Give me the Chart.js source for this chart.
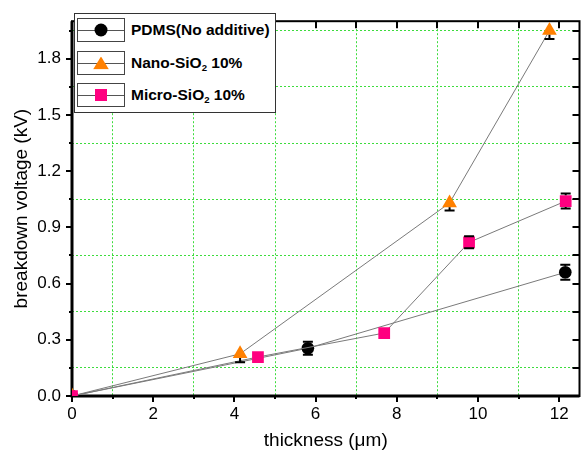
<!DOCTYPE html>
<html>
<head>
<meta charset="utf-8">
<script src="https://cdn.jsdelivr.net/npm/chart.js@4.4.1/dist/chart.umd.min.js"></script>
<style>
  body { margin: 0; background: #fff; }
  #wrap { position: relative; width: 588px; height: 456px; }
  #legend {
    position: absolute; left: 74px; top: 13px; width: 200px; height: 98px;
    border: 1px solid #333; background: #fff;
    font: bold 15.5px "Liberation Sans", Arial, sans-serif; color: #000;
  }
  .item { position: absolute; left: 2px; height: 24px; display: flex; align-items: center; white-space: nowrap; }
  .item:nth-child(1) { top: 4px; }
  .item:nth-child(2) { top: 37px; }
  .item:nth-child(3) { top: 69px; }
  .sample { position: relative; width: 46px; height: 22px; border: 1px solid #444; margin-right: 6px; }
  .sample .ln { position: absolute; left: 0; right: 0; top: 11px; height: 1px; background: #555; }
  .mk { position: absolute; left: 50%; top: 50%; transform: translate(-50%, -50%); }
  .circle { width: 13px; height: 13px; border-radius: 50%; background: #000; }
  .tri { width: 16px; height: 13px; background: #ff8000; clip-path: polygon(50% 0, 100% 100%, 0 100%); }
  .sq { width: 12px; height: 12px; background: #ff0080; }
  sub { font-size: 0.62em; vertical-align: -0.3em; line-height: 0; }
</style>
</head>
<body>
<div id="wrap">
  <canvas id="grafico" width="588" height="456"></canvas>
  <div id="legend"></div>
</div>
<script>
// dados
const seriesNames = ['PDMS(No additive)', 'Nano-SiO2 10%', 'Micro-SiO2 10%'];

const pdmsX = [0, 5.81, 12.15];
const pdmsY = [0, 0.255, 0.66];
const pdmsErr = [0, 0.035, 0.04];

const nanoX = [0, 4.14, 9.3, 11.76];
const nanoY = [0, 0.225, 1.03, 1.95];
const nanoErr = [0, 0.045, 0.04, 0.045];

const microX = [0, 4.58, 7.69, 9.78, 12.16];
const microY = [0, 0.208, 0.336, 0.82, 1.04];
const microErr = [0, 0.03, 0.03, 0.032, 0.04];

const xTicks = [0, 1, 2, 3, 4, 5, 6, 7, 8, 9, 10, 11, 12];
const xLabelled = [0, 2, 4, 6, 8, 10, 12];
const yTicks = [0, 0.15, 0.3, 0.45, 0.6, 0.75, 0.9, 1.05, 1.2, 1.35, 1.5, 1.65, 1.8, 1.95];
const yLabelled = [0, 0.3, 0.6, 0.9, 1.2, 1.5, 1.8];

const verdeGrade = '#3ddc3d';
const fonte = '"Liberation Sans", Arial, sans-serif';

function pontos(xs, ys) {
    return xs.map((x, i) => ({ x: x, y: ys[i] }));
}

// metade da altura do marcador (acima / abaixo do centro)
function metadeMarcador(ds) {
    const r = ds.pointRadius;
    if (ds.pointStyle === 'triangle') return [r, r * 0.5];
    if (ds.pointStyle === 'rect') return [r * Math.SQRT1_2, r * Math.SQRT1_2];
    return [r, r];
}

// moldura + ticks nos quatro lados
const moldura = {
    id: 'moldura',
    beforeDatasetsDraw(chart) {
        const { ctx, chartArea: a, scales } = chart;
        const sx = scales.x, sy = scales.y;
        ctx.save();
        ctx.strokeStyle = '#000';
        ctx.lineWidth = 2;
        xTicks.forEach(v => {
            const px = Math.round(sx.getPixelForValue(v));
            const major = xLabelled.includes(v);
            ctx.beginPath();
            ctx.moveTo(px, a.bottom);
            ctx.lineTo(px, a.bottom + (major ? 6 : 3));
            ctx.moveTo(px, a.top);
            ctx.lineTo(px, a.top + 7);
            ctx.stroke();
        });
        yTicks.forEach(v => {
            const py = Math.round(sy.getPixelForValue(v));
            const major = yLabelled.includes(v);
            ctx.beginPath();
            ctx.moveTo(a.left, py);
            ctx.lineTo(a.left - (major ? 6 : 3), py);
            ctx.moveTo(a.right, py);
            ctx.lineTo(a.right - 7, py);
            ctx.stroke();
        });
        ctx.lineWidth = 2;
        ctx.strokeRect(a.left, a.top, a.right - a.left, a.bottom - a.top);
        ctx.lineWidth = 3;
        ctx.beginPath();
        ctx.moveTo(a.left, a.top);
        ctx.lineTo(a.left, a.bottom);
        ctx.lineTo(a.right, a.bottom);
        ctx.stroke();
        ctx.restore();
    }
};

// barras de erro (só a parte fora do marcador)
const barrasErro = {
    id: 'barrasErro',
    afterDatasetsDraw(chart) {
        const { ctx, scales } = chart;
        const sy = scales.y;
        ctx.save();
        ctx.strokeStyle = '#000';
        ctx.lineWidth = 2;
        chart.data.datasets.forEach((ds, i) => {
            const meta = chart.getDatasetMeta(i);
            const [hCima, hBaixo] = metadeMarcador(ds);
            ds.data.forEach((p, j) => {
                const e = ds.errors[j];
                if (!e) return;
                const px = meta.data[j].x;
                const py = sy.getPixelForValue(p.y);
                const topo = sy.getPixelForValue(p.y + e);
                const base = sy.getPixelForValue(p.y - e);
                ctx.beginPath();
                if (py - topo > hCima) {
                    ctx.moveTo(px, topo);
                    ctx.lineTo(px, py - hCima);
                    ctx.moveTo(px - 5, topo);
                    ctx.lineTo(px + 5, topo);
                }
                if (base - py > hBaixo) {
                    ctx.moveTo(px, py + hBaixo);
                    ctx.lineTo(px, base);
                    ctx.moveTo(px - 5, base);
                    ctx.lineTo(px + 5, base);
                }
                ctx.stroke();
            });
        });
        ctx.restore();
    }
};

const comum = {
    showLine: true,
    borderColor: '#7a7a7a',
    borderWidth: 1,
    tension: 0,
    pointBorderWidth: 0,
    pointHoverRadius: 0,
    clip: 0
};

new Chart(document.getElementById('grafico').getContext('2d'), {
    type: 'scatter',
    data: {
        datasets: [
            Object.assign({}, comum, {
                label: seriesNames[0],
                data: pontos(pdmsX, pdmsY),
                errors: pdmsErr,
                pointStyle: 'circle',
                pointRadius: 6.3,
                pointBackgroundColor: '#000000',
                order: 2
            }),
            Object.assign({}, comum, {
                label: seriesNames[1],
                data: pontos(nanoX, nanoY),
                errors: nanoErr,
                pointStyle: 'triangle',
                pointRadius: 8.5,
                pointBackgroundColor: '#ff8000',
                order: 1
            }),
            Object.assign({}, comum, {
                label: seriesNames[2],
                data: pontos(microX, microY),
                errors: microErr,
                pointStyle: 'rect',
                pointRadius: 8.3,
                pointBackgroundColor: '#ff0080',
                order: 0
            })
        ]
    },
    options: {
        responsive: false,
        animation: false,
        devicePixelRatio: 1,
        layout: { padding: { top: 10, right: 1, left: 0, bottom: 0 } },
        plugins: {
            legend: { display: false },
            tooltip: { enabled: false }
        },
        scales: {
            x: {
                type: 'linear',
                min: 0,
                max: 12.5,
                afterBuildTicks: s => { s.ticks = xTicks.map(v => ({ value: v })); },
                afterFit: s => { s.height = 60; },
                ticks: {
                    autoSkip: false,
                    maxRotation: 0,
                    padding: 8,
                    color: '#000',
                    font: { family: fonte, size: 17 },
                    callback: v => xLabelled.includes(v) ? String(v) : ''
                },
                grid: {
                    drawTicks: false,
                    lineWidth: 1,
                    color: c => (c.tick && c.tick.value % 2 === 1) ? verdeGrade : 'rgba(0,0,0,0)'
                },
                border: { display: false, dash: [2, 2] },
                title: {
                    display: true,
                    text: 'thickness (\u03bcm)',
                    color: '#000',
                    font: { family: fonte, size: 19 },
                    padding: { top: 0, bottom: 4 }
                }
            },
            y: {
                type: 'linear',
                min: 0,
                max: 2.0,
                afterBuildTicks: s => { s.ticks = yTicks.map(v => ({ value: v })); },
                afterFit: s => { s.width = 72; },
                ticks: {
                    autoSkip: false,
                    padding: 11,
                    color: '#000',
                    font: { family: fonte, size: 17 },
                    callback: v => yLabelled.includes(v) ? v.toFixed(1) : ''
                },
                grid: {
                    drawTicks: false,
                    lineWidth: 1,
                    color: c => (c.tick && yTicks.indexOf(c.tick.value) % 2 === 1) ? verdeGrade : 'rgba(0,0,0,0)'
                },
                border: { display: false, dash: [2, 2] },
                title: {
                    display: true,
                    text: 'breakdown voltage (kV)',
                    color: '#000',
                    font: { family: fonte, size: 19 },
                    padding: { top: 10, bottom: 0 }
                }
            }
        }
    },
    plugins: [moldura, barrasErro]
});

// legenda em HTML (caixinhas como no Origin)
const classes = ['circle', 'tri', 'sq'];
const legenda = document.getElementById('legend');
seriesNames.forEach((nome, i) => {
    const item = document.createElement('div');
    item.className = 'item';
    item.innerHTML = '<div class="sample"><div class="ln"></div><div class="mk ' + classes[i] + '"></div></div>' +
        '<span>' + nome.replace('SiO2', 'SiO<sub>2</sub>') + '</span>';
    legenda.appendChild(item);
});
</script>
</body>
</html>
